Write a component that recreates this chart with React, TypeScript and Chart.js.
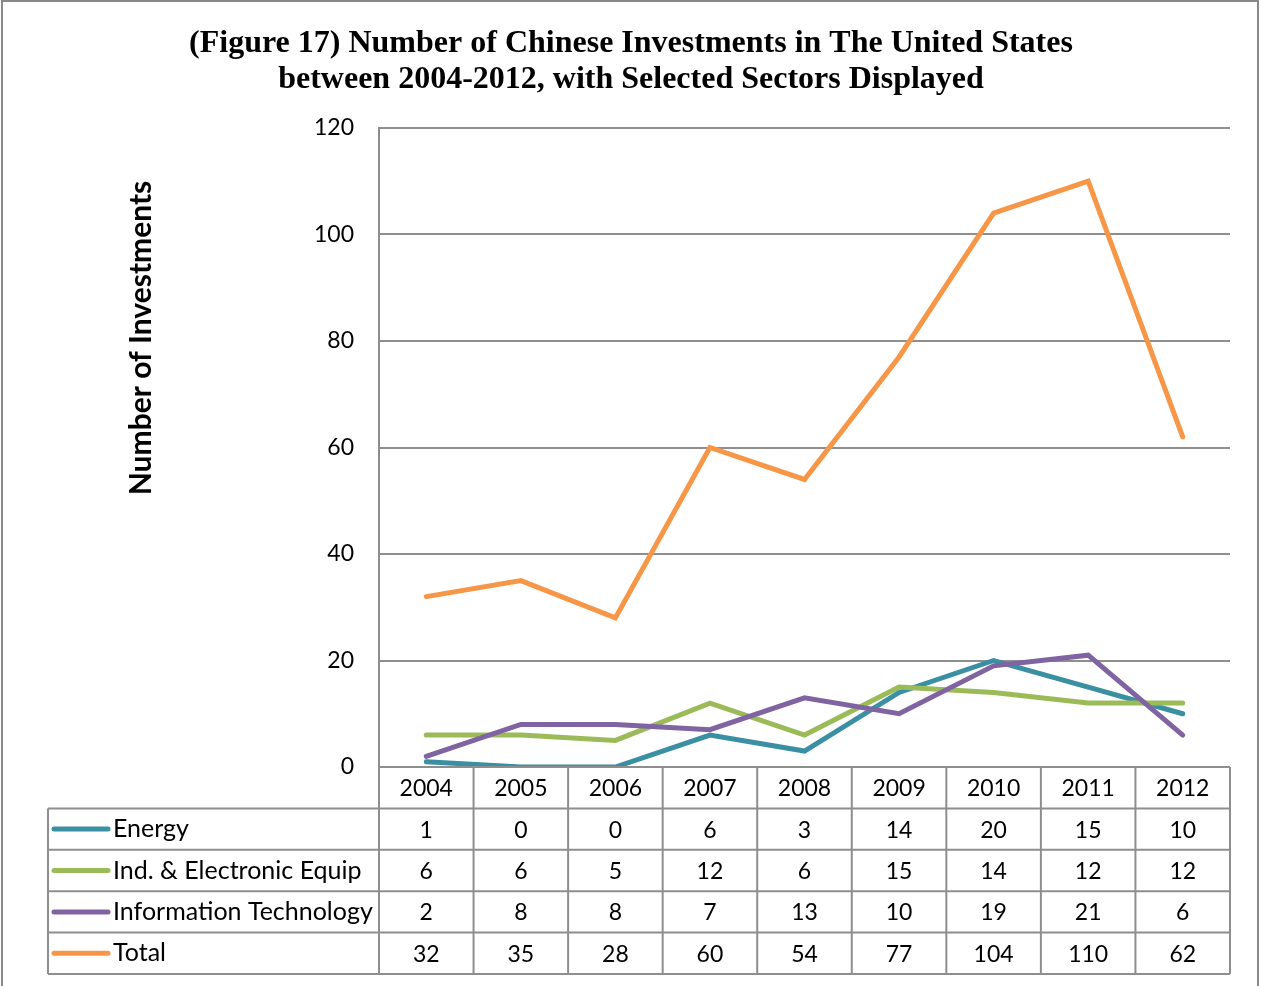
import { useEffect, useRef } from "react";
import { Chart, registerables } from "chart.js";

Chart.register(...registerables);

const years = ["2004", "2005", "2006", "2007", "2008", "2009", "2010", "2011", "2012"];
const energy = [1, 0, 0, 6, 3, 14, 20, 15, 10];
const indEquip = [6, 6, 5, 12, 6, 15, 14, 12, 12];
const infoTech = [2, 8, 8, 7, 13, 10, 19, 21, 6];
const total = [32, 35, 28, 60, 54, 77, 104, 110, 62];
const seriesNames = ["Energy", "Ind. & Electronic Equip", "Information Technology", "Total"];
const seriesColors = ["#3A8FA3", "#9BBB59", "#8064A2", "#F79646"];
const titleLines = [
  "(Figure 17) Number of Chinese Investments in The United States",
  "between 2004-2012, with Selected Sectors Displayed",
];
const yTitle = "Number of Investments";
const yMin = 0;
const yMax = 120;
const yStep = 20;

const GRID = "#8e8e8e";
const FONT = "Lato, 'DejaVu Sans', sans-serif";

const tablePlugin = {
  id: "excelTable",
  afterDraw(chart: any) {
    const ctx: CanvasRenderingContext2D = chart.ctx;
    const area = chart.chartArea;
    const xs = chart.scales.x;
    const n = years.length;
    const colW = (area.right - area.left) / n;
    const rowH = 41.4;
    const tableLeft = 48;
    const headerTop = area.bottom;
    const headerBottom = headerTop + rowH;
    const rows = [energy, indEquip, infoTech, total];
    const tableBottom = headerBottom + rows.length * rowH;

    ctx.save();
    ctx.strokeStyle = GRID;
    ctx.lineWidth = 2;
    ctx.beginPath();
    ctx.moveTo(area.left, headerTop);
    ctx.lineTo(area.right, headerTop);
    for (let i = 0; i <= n; i++) {
      const x = area.left + i * colW;
      ctx.moveTo(x, headerTop);
      ctx.lineTo(x, tableBottom);
    }
    ctx.moveTo(tableLeft, headerBottom);
    ctx.lineTo(tableLeft, tableBottom);
    for (let r = 0; r <= rows.length; r++) {
      const y = headerBottom + r * rowH;
      ctx.moveTo(tableLeft, y);
      ctx.lineTo(area.right, y);
    }
    ctx.stroke();

    ctx.fillStyle = "#000";
    ctx.font = `23px ${FONT}`;
    ctx.textAlign = "center";
    ctx.textBaseline = "middle";
    for (let i = 0; i < n; i++) {
      const cx = xs.getPixelForValue(i);
      ctx.fillText(years[i], cx, headerTop + rowH / 2 + 1);
      rows.forEach((vals, r) => {
        ctx.fillText(String(vals[i]), cx, headerBottom + r * rowH + rowH / 2 + 1);
      });
    }

    rows.forEach((_, r) => {
      const cy = headerBottom + r * rowH + rowH / 2;
      ctx.strokeStyle = seriesColors[r];
      ctx.lineWidth = 5;
      ctx.lineCap = "round";
      ctx.beginPath();
      ctx.moveTo(tableLeft + 6, cy);
      ctx.lineTo(tableLeft + 60, cy);
      ctx.stroke();
      ctx.fillStyle = "#000";
      ctx.textAlign = "left";
      ctx.font = `25px ${FONT}`;
      ctx.fillText(seriesNames[r], tableLeft + 65, cy);
    });

    // title
    ctx.fillStyle = "#000";
    ctx.textAlign = "center";
    ctx.font = `bold 32px 'Liberation Serif', 'Times New Roman', serif`;
    ctx.fillText(titleLines[0], 631, 44);
    ctx.fillText(titleLines[1], 631, 80);

    // y title
    ctx.save();
    ctx.translate(141, 338);
    ctx.rotate(-Math.PI / 2);
    ctx.font = `bold 30px ${FONT}`;
    ctx.fillText(yTitle, 0, 0);
    ctx.restore();

    // outer border
    ctx.strokeStyle = "#898989";
    ctx.lineWidth = 2;
    ctx.lineCap = "butt";
    ctx.strokeRect(2, 1, 1256, 995);
    ctx.restore();
  },
};

export default function App() {
  const canvasRef = useRef<HTMLCanvasElement | null>(null);

  useEffect(() => {
    document.body.style.margin = "0";
    const canvas = canvasRef.current;
    if (!canvas) return;
    const datasets = [energy, indEquip, infoTech, total].map((d, i) => ({
      label: seriesNames[i],
      data: d,
      borderColor: seriesColors[i],
      backgroundColor: seriesColors[i],
      borderWidth: 5,
      pointRadius: 0,
      tension: 0,
      borderCapStyle: "round" as const,
      borderJoinStyle: "miter" as const,
      order: 3 - i,
    }));
    const chart = new Chart(canvas, {
      type: "line",
      data: { labels: years, datasets },
      options: {
        responsive: false,
        animation: false,
        layout: { padding: { left: 0, right: 31, top: 128, bottom: 219 } },
        plugins: {
          legend: { display: false },
          tooltip: { enabled: false },
          title: { display: false },
        },
        scales: {
          x: {
            type: "category",
            display: false,
            offset: true,
            grid: { display: false },
          },
          y: {
            min: yMin,
            max: yMax,
            ticks: {
              stepSize: yStep,
              padding: 25,
              color: "#000",
              font: { family: FONT, size: 23 },
            },
            grid: { color: GRID, lineWidth: 2, drawTicks: false },
            border: { color: GRID, width: 2 },
            afterFit: (scale: any) => {
              scale.width = 379;
            },
          },
        },
      },
      plugins: [tablePlugin],
    });
    return () => chart.destroy();
  }, []);

  return (
    <div style={{ width: 1261, height: 986, background: "#fff" }}>
      <canvas ref={canvasRef} width={1261} height={986} />
    </div>
  );
}
